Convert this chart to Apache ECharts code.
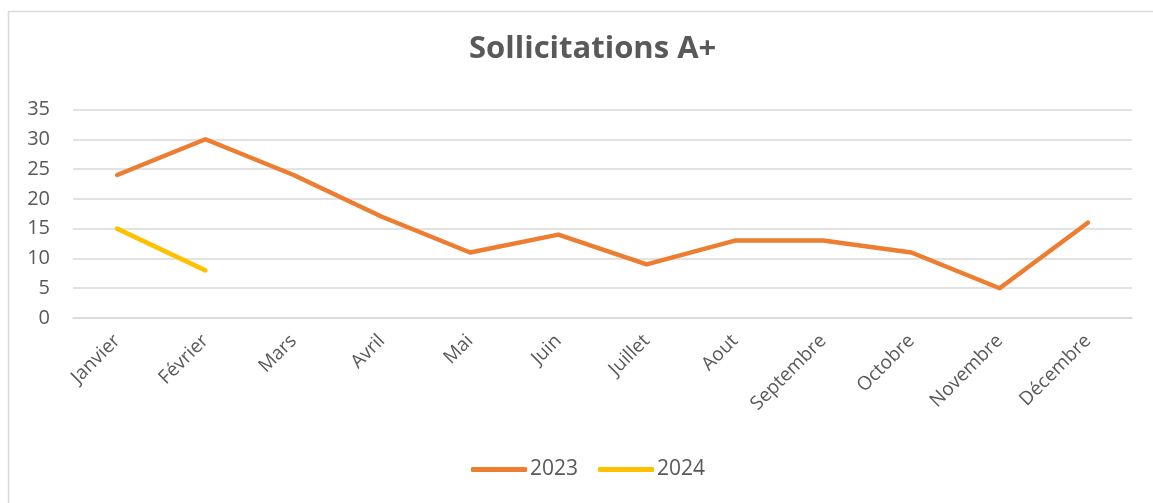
<!DOCTYPE html>
<html>
<head>
<meta charset="utf-8">
<script src="https://cdn.jsdelivr.net/npm/echarts@6/dist/echarts.min.js"></script>
<style>
html, body { margin: 0; padding: 0; background: #fff; }
#chart { width: 1153px; height: 503px; }
</style>
</head>
<body>
<div id="chart"></div>
<script>
var mois = ['Janvier', 'Février', 'Mars', 'Avril', 'Mai', 'Juin', 'Juillet', 'Aout', 'Septembre', 'Octobre', 'Novembre', 'Décembre'];
var data2023 = [24, 30, 24, 17, 11, 14, 9, 13, 13, 11, 5, 16];
var data2024 = [15, 8];

var myChart = echarts.init(document.getElementById('chart'));
var police = '"Open Sans", "Liberation Sans", sans-serif';

var option = {
    backgroundColor: '#fff',
    textStyle: { fontFamily: police },
    graphic: [{
        type: 'rect',
        shape: { x: 8.5, y: 11.5, width: 1160, height: 520 },
        style: { fill: 'none', stroke: '#d9d9d9', lineWidth: 1.5 },
        silent: true
    }],
    title: {
        text: 'Sollicitations A+',
        left: 464,
        top: 29,
        textStyle: { fontSize: 31, fontWeight: 'bold', color: '#595959', fontFamily: police }
    },
    legend: {
        bottom: 18,
        left: 466,
        data: ['2023', '2024'],
        icon: 'roundRect',
        itemWidth: 56,
        itemHeight: 5,
        itemGap: 20,
        textStyle: { fontSize: 21, color: '#595959', padding: [0, 0, 0, -2] }
    },
    grid: { left: 73, right: 21, top: 109.5, bottom: 185 },
    xAxis: {
        type: 'category',
        data: mois,
        boundaryGap: true,
        axisLine: { lineStyle: { color: '#d9d9d9', width: 1.5 } },
        axisTick: { show: false },
        axisLabel: { rotate: 45, interval: 0, fontSize: 19, color: '#595959', margin: 20 }
    },
    yAxis: {
        type: 'value',
        min: 0,
        max: 35,
        interval: 5,
        axisLine: { show: false },
        axisTick: { show: false },
        axisLabel: { fontSize: 20, color: '#595959', margin: 23 },
        splitLine: { lineStyle: { color: '#d9d9d9', width: 1.5 } }
    },
    series: [
        {
            name: '2023',
            type: 'line',
            data: data2023,
            symbol: 'none',
            color: '#ED7D31',
            lineStyle: { width: 4.5, cap: 'round', join: 'round' }
        },
        {
            name: '2024',
            type: 'line',
            data: data2024,
            symbol: 'none',
            color: '#FFC000',
            lineStyle: { width: 4.5, cap: 'round', join: 'round' }
        }
    ]
};
myChart.setOption(option);
</script>
</body>
</html>
